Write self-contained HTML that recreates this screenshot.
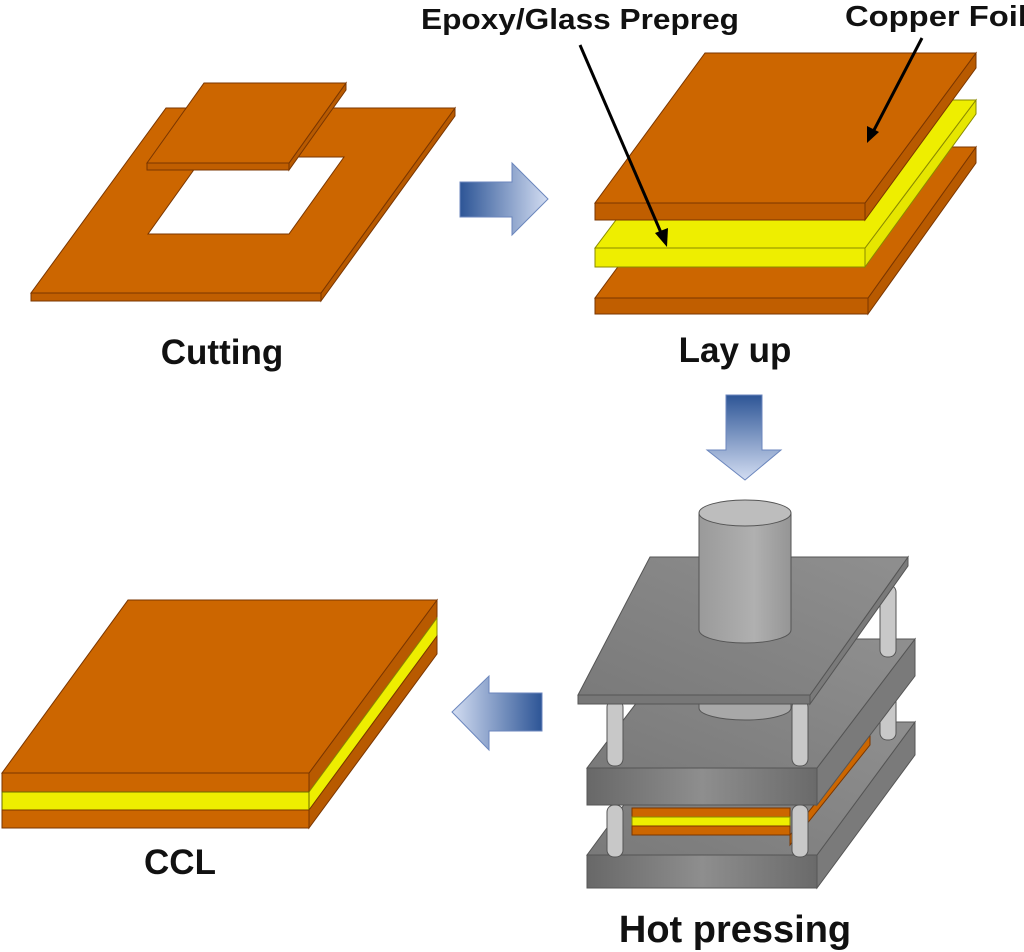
<!DOCTYPE html>
<html><head><meta charset="utf-8"><style>
html,body{margin:0;padding:0;background:#fff;}
svg{display:block;}
text{font-family:"Liberation Sans",sans-serif;font-weight:bold;fill:#111;}
</style></head><body>
<svg width="1024" height="952" viewBox="0 0 1024 952" xmlns="http://www.w3.org/2000/svg">
<defs>
<linearGradient id="ar" x1="0" y1="0" x2="1" y2="0"><stop offset="0" stop-color="#2d5596"/><stop offset="1" stop-color="#d3ddf2"/></linearGradient>
<linearGradient id="al" x1="1" y1="0" x2="0" y2="0"><stop offset="0" stop-color="#2d5596"/><stop offset="1" stop-color="#d3ddf2"/></linearGradient>
<linearGradient id="ad" x1="0" y1="0" x2="0" y2="1"><stop offset="0" stop-color="#2d5596"/><stop offset="1" stop-color="#d3ddf2"/></linearGradient>
<linearGradient id="pf" x1="0" y1="0" x2="1" y2="0"><stop offset="0" stop-color="#686868"/><stop offset="0.5" stop-color="#8e8e8e"/><stop offset="1" stop-color="#6a6a6a"/></linearGradient>
<linearGradient id="pt" x1="0" y1="1" x2="1" y2="0"><stop offset="0" stop-color="#7a7a7a"/><stop offset="1" stop-color="#8f8f8f"/></linearGradient>
<linearGradient id="cy" x1="0" y1="0" x2="1" y2="0"><stop offset="0" stop-color="#9a9a9a"/><stop offset="0.6" stop-color="#b0b0b0"/><stop offset="1" stop-color="#959595"/></linearGradient>
</defs>
<g stroke="#7a3600" stroke-width="1">
<path d="M321,293 L455,108 L455,116 L321,301 Z" fill="#b85a00"/>
<path d="M31,293 L321,293 L321,301 L31,301 Z" fill="#c05e00"/>
<path fill-rule="evenodd" d="M166,108 L455,108 L321,293 L31,293 Z M203,157 L344,157 L289,234 L148,234 Z" fill="#cc6600"/>
<path d="M289,163 L346,83 L346,90 L289,170 Z" fill="#b85a00"/>
<path d="M147,163 L289,163 L289,170 L147,170 Z" fill="#c05e00"/>
<path d="M204,83 L346,83 L289,163 L147,163 Z" fill="#cc6600"/>
</g>
<path d="M460,182 L512,182 L512,163 L548,199 L512,235 L512,217 L460,217 Z" fill="url(#ar)" stroke="#6b86bd" stroke-width="1"/>
<text x="222" y="364" font-size="35" text-anchor="middle">Cutting</text>

<g stroke="#7a3600" stroke-width="1">
<path d="M868,298 L976,147 L976,163 L868,314 Z" fill="#b85a00"/>
<path d="M706,147 L976,147 L868,298 L595,298 Z" fill="#cc6600"/>
<path d="M595,298 L868,298 L868,314 L595,314 Z" fill="#c05e00"/>
</g>
<g stroke="#8a8a00" stroke-width="1">
<path d="M865,248 L976,100 L976,114 L865,267 Z" fill="#e6e600"/>
<path d="M706,100 L976,100 L865,248 L595,248 Z" fill="#eeee00"/>
<path d="M595,248 L865,248 L865,267 L595,267 Z" fill="#eeee00"/>
</g>
<g stroke="#7a3600" stroke-width="1">
<path d="M865,203 L976,53 L976,68 L865,220 Z" fill="#b85a00"/>
<path d="M705,53 L976,53 L865,203 L595,203 Z" fill="#cc6600"/>
<path d="M595,203 L865,203 L865,220 L595,220 Z" fill="#c05e00"/>
</g>
<line x1="580" y1="45" x2="662" y2="235" stroke="#000" stroke-width="3"/>
<path d="M667,247 L655,233 L668,228 Z" fill="#000"/>
<line x1="922" y1="38" x2="873" y2="132" stroke="#000" stroke-width="3"/>
<path d="M867,143 L867,126 L879,132 Z" fill="#000"/>
<text x="580" y="29" font-size="29" text-anchor="middle" textLength="318" lengthAdjust="spacingAndGlyphs">Epoxy/Glass Prepreg</text>
<text x="845" y="26" font-size="29" textLength="182" lengthAdjust="spacingAndGlyphs">Copper Foil</text>
<text x="735" y="362" font-size="35" text-anchor="middle">Lay up</text>
<path d="M726,395 L762,395 L762,450 L781,450 L745,480 L707,450 L726,450 Z" fill="url(#ad)" stroke="#6b86bd" stroke-width="1"/>

<g stroke="#555" stroke-width="1">
<path d="M817,855 L915,722 L915,755 L817,888 Z" fill="#7a7a7a"/>
<path d="M587,855 L685,722 L915,722 L817,855 Z" fill="url(#pt)"/>
<rect x="587" y="855" width="230" height="33" fill="url(#pf)"/>
<path d="M790,835 L870,735 L870,745 L790,845 Z" fill="#cc6600" stroke="#7a3600"/>
<rect x="632" y="808" width="158" height="9" fill="#cc6600" stroke="#7a3600"/>
<rect x="632" y="817" width="158" height="9" fill="#eeee00" stroke="#8a8a00"/>
<rect x="632" y="826" width="158" height="9" fill="#cc6600" stroke="#7a3600"/>
<rect x="607" y="805" width="16" height="52" rx="7" fill="#c8c8c8"/>
<rect x="792" y="805" width="16" height="52" rx="7" fill="#c8c8c8"/>
<rect x="880" y="690" width="16" height="50" rx="7" fill="#c8c8c8"/>
<path d="M817,768 L915,639 L915,676 L817,805 Z" fill="#7a7a7a"/>
<path d="M587,768 L685,639 L915,639 L817,768 Z" fill="url(#pt)"/>
<rect x="587" y="768" width="230" height="37" fill="url(#pf)"/>
<path d="M699,704 L791,704 L791,708 A46,12 0 0 1 699,708 Z" fill="#a8a8a8"/>
<rect x="607" y="700" width="16" height="66" rx="7" fill="#c8c8c8"/>
<rect x="792" y="700" width="16" height="66" rx="7" fill="#c8c8c8"/>
<rect x="880" y="585" width="16" height="72" rx="7" fill="#c8c8c8"/>
<path d="M810,695 L908,557 L908,566 L810,704 Z" fill="#7a7a7a"/>
<path d="M578,695 L650,557 L908,557 L810,695 Z" fill="url(#pt)"/>
<rect x="578" y="695" width="232" height="9" fill="#777"/>
<path d="M699,513 L699,630 A46,13 0 0 0 791,630 L791,513 Z" fill="url(#cy)"/>
<ellipse cx="745" cy="513" rx="46" ry="13" fill="#bdbdbd"/>
</g>
<text x="735" y="942" font-size="38" text-anchor="middle">Hot pressing</text>
<path d="M542,693 L489,693 L489,676 L452,712 L489,750 L489,731 L542,731 Z" fill="url(#al)" stroke="#6b86bd" stroke-width="1"/>

<g stroke="#7a3600" stroke-width="1">
<path d="M309,773 L437,600 L437,618 L309,792 Z" fill="#b85a00"/>
<path d="M309,792 L437,618 L437,636 L309,810 Z" fill="#eeee00" stroke="#8a8a00"/>
<path d="M309,810 L437,636 L437,654 L309,828 Z" fill="#b85a00"/>
<path d="M128,600 L437,600 L309,773 L2,773 Z" fill="#cc6600"/>
<rect x="2" y="773" width="307" height="19" fill="#cc6600"/>
<rect x="2" y="792" width="307" height="18" fill="#eeee00" stroke="#6a6a00"/>
<rect x="2" y="810" width="307" height="18" fill="#cc6600"/>
</g>
<text x="180" y="874" font-size="35" text-anchor="middle">CCL</text>
</svg>
</body></html>
